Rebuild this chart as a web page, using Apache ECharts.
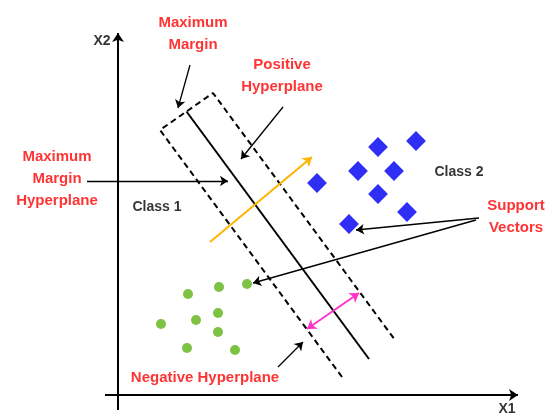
<!DOCTYPE html>
<html><head><meta charset="utf-8">
<script src="https://cdn.jsdelivr.net/npm/echarts@6/dist/echarts.min.js"></script>
<style>html,body{margin:0;padding:0;background:#fff}#c{width:552px;height:416px}</style>
</head><body><div id="c"></div>
<script>
// Data coordinates (X1, X2 units)
const class1Points = [[3.225,2.775],[2.525,2.7],[1.75,2.525],[2.5,2.05],[1.95,1.875],[1.075,1.775],[2.5,1.575],[1.725,1.175],[2.925,1.125]];
const class2Points = [[6.5,6.2],[7.45,6.35],[6.0,5.6],[6.9,5.6],[4.975,5.3],[6.5,5.025],[7.225,4.575],[5.775,4.275]];
const hyperplane = [[1.7125,7.0875],[6.275,0.9]];
const marginBox = [[5.6,0.45],[1.05,6.625],[2.375,7.55],[6.925,1.375]];
const normalVector = [[2.3,3.825],[4.85,5.95]];
const marginWidth = [[4.725,1.65],[6.025,2.55]];
const axisX1 = [[-0.325,0],[10.0,0]];
const axisX2 = [[0,-0.375],[0,9.05]];
const pointers = [
  [[1.8,8.25],[1.5,7.175]],
  [[4.125,7.2],[3.075,5.9]],
  [[-0.775,5.35],[2.75,5.35]],
  [[9.025,4.425],[5.95,4.125]],
  [[8.95,4.375],[3.375,2.8]],
  [[4.0,0.7],[4.625,1.325]]
];
const redLabels = [
  {text:'Maximum\nMargin', at:[1.875,9.025]},
  {text:'Positive\nHyperplane', at:[4.1,7.975]},
  {text:'Maximum\nMargin\nHyperplane', at:[-1.525,5.4]},
  {text:'Support\nVectors', at:[9.95,4.45]},
  {text:'Negative Hyperplane', at:[2.175,0.425]}
];
const blackLabels = [
  {text:'Class 1', at:[0.975,4.7]},
  {text:'Class 2', at:[8.525,5.575]},
  {text:'X2', at:[-0.4,8.85]},
  {text:'X1', at:[9.725,-0.35]}
];

const chart = echarts.init(document.getElementById('c'), null, {renderer:'canvas'});
const FONT = 'Liberation Sans';
function seg(c){ return {coords:c}; }
chart.setOption({
  animation:false,
  backgroundColor:'#fff',
  grid:{left:0,right:0,top:0,bottom:0},
  xAxis:{type:'value',min:-2.95,max:10.85,show:false},
  yAxis:{type:'value',min:-0.525,max:9.875,show:false},
  series:[
    {type:'lines',coordinateSystem:'cartesian2d',data:[seg(axisX1),seg(axisX2)],
     symbol:['none','arrow'],symbolSize:[0,9],lineStyle:{color:'#000',width:2,opacity:1},z:2},
    {type:'line',data:marginBox,showSymbol:false,symbol:'none',
     lineStyle:{color:'#000',width:2,type:[6,4]},z:3},
    {type:'line',data:hyperplane,showSymbol:false,symbol:'none',
     lineStyle:{color:'#000',width:2},z:3},
    {type:'lines',coordinateSystem:'cartesian2d',data:[seg(normalVector)],
     symbol:['none','arrow'],symbolSize:[0,9],lineStyle:{color:'#FFB400',width:2,opacity:1},z:4},
    {type:'lines',coordinateSystem:'cartesian2d',data:[seg(marginWidth)],
     symbol:['arrow','arrow'],symbolSize:[9,9],lineStyle:{color:'#FF33CC',width:2,opacity:1},z:4},
    {type:'lines',coordinateSystem:'cartesian2d',data:pointers.map(seg),
     symbol:['none','arrow'],symbolSize:[0,8],lineStyle:{color:'#000',width:1.3,opacity:1},z:4},
    {type:'scatter',data:class1Points,symbol:'circle',symbolSize:10,
     itemStyle:{color:'#7DC242',opacity:1},z:5},
    {type:'scatter',data:class2Points,symbol:'rect',symbolSize:14,symbolRotate:45,
     itemStyle:{color:'#2E2EF5',opacity:1},z:5},
    {type:'scatter',data:redLabels.map(d=>({name:d.text,value:d.at})),symbolSize:0,silent:true,
     label:{show:true,position:'inside',formatter:'{b}',color:'#FF0000',fontFamily:FONT,fontWeight:'bold',fontSize:15,lineHeight:22,align:'center',verticalAlign:'middle'},z:6},
    {type:'scatter',data:blackLabels.map(d=>({name:d.text,value:d.at})),symbolSize:0,silent:true,
     label:{show:true,position:'inside',formatter:'{b}',color:'#000',fontFamily:FONT,fontWeight:'bold',fontSize:14,align:'center',verticalAlign:'middle'},z:6}
  ]
});
</script></body></html>
